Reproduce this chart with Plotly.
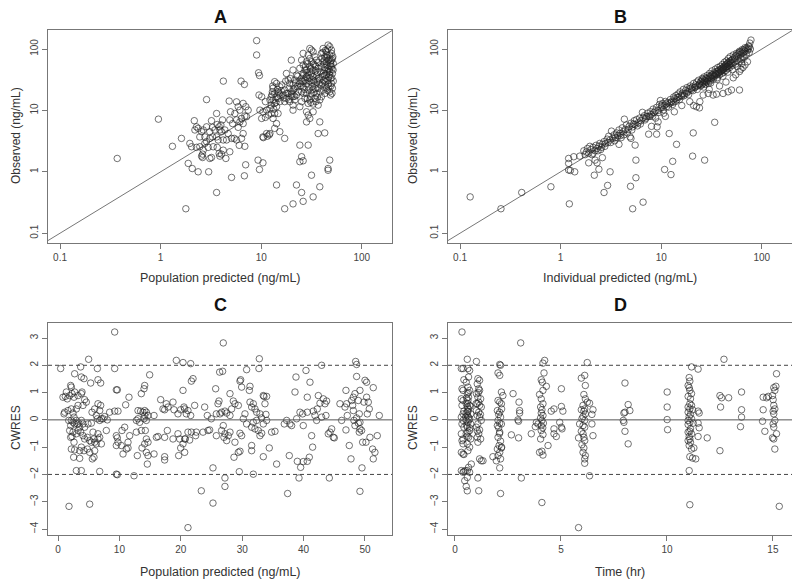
import plotly.graph_objects as go

# observed vs population predicted (ng/mL)
pred_obs = [
    (0.37, 1.65), (0.95, 7.2), (1.31, 2.6), (1.61, 3.5), (1.78, 0.25), (1.88, 1.37), (2.06, 1.13),
    (2.36, 1.0), (3.0, 1.0), (2.86, 15), (3.6, 0.46), (4.2, 30), (5.07, 0.81), (6.8, 0.86), (7.0, 1.3),
    (6.3, 30), (6.8, 26.5), (9.0, 137), (9.0, 80), (9.4, 41), (9.6, 37), (9.5, 17.8), (9.3, 1.55),
    (9.6, 1.09), (10.4, 1.4), (11.5, 3.8), (10.5, 3.6), (12, 4.0),
    (2.16, 6.8), (2.27, 5.4), (2.19, 4.8), (2.55, 4.5), (2.65, 4.8), (2.45, 3.7), (2.75, 3.7), (3.08, 4.5),
    (3.2, 6.8), (3.28, 5.3), (3.46, 4.8), (3.65, 5.9), (3.82, 5.4), (3.97, 5.8), (3.88, 4.8), (4.03, 4.5),
    (4.19, 3.3), (3.6, 3.7), (3.73, 3.3), (4.52, 3.3), (5.07, 3.5), (4.87, 7.0), (4.8, 14.2), (5.68, 13.8),
    (5.9, 11.5), (6.61, 13.0), (7.03, 11.5), (6.13, 10.1), (6.37, 7.4), (6.13, 6.5), (6.61, 6.1), (6.87, 8.1),
    (7.14, 7.9), (7.41, 10.1), (5.68, 7.0), (5.9, 5.3), (5.39, 3.5), (5.68, 3.3), (6.37, 3.5), (6.61, 4.2),
    (6.04, 2.7), (6.87, 2.6), (4.87, 2.12), (4.19, 2.25), (4.03, 1.94), (3.82, 1.99), (3.88, 1.8), (3.65, 2.5),
    (3.2, 1.71), (2.61, 1.94), (2.55, 1.8), (2.61, 1.71), (2.65, 2.25), (2.45, 2.56), (2.03, 2.56), (2.27, 2.5),
    (1.95, 2.9), (2.97, 2.5), (3.33, 2.56), (2.36, 5.1), (2.86, 3.1), (3.08, 3.5), (3.6, 8.9), (2.86, 5.4),
    (4.35, 4.8), (4.69, 4.2), (5.19, 6.1), (5.47, 8.9), (4.95, 9.5), (4.12, 7.0), (3.28, 3.7), (2.75, 2.9),
    (3.08, 1.65), (4.45, 1.65),
    (20.7, 10.1), (24.2, 11.5), (28.2, 9.5), (32.8, 9.5), (29.3, 8.4), (30.4, 7.4), (28.2, 6.5), (38.2, 6.5),
    (36.8, 4.2), (42.8, 4.3), (24.2, 2.72), (29.3, 2.72), (25.2, 1.76), (26.1, 1.51), (24.2, 1.46), (48, 1.55),
    (46.2, 1.13), (46.2, 1.06), (31.6, 0.88), (14.2, 0.61), (22.4, 0.61), (25.2, 0.46), (38.2, 0.57),
    (32.8, 0.39), (26.1, 0.33), (20.7, 0.30), (17.1, 0.25),
    (13.6, 29.4), (14.2, 27.5), (13.1, 23.0), (13.6, 18.9), (12.6, 16.7), (14.2, 16.7), (14.7, 15.7),
    (13.1, 14.8), (15.3, 13.9), (13.6, 13.0), (14.7, 20.1), (12.9, 20.1), (15.3, 24.3), (14.2, 11.5),
    (12.6, 12.2), (15.3, 17.8), (12.2, 14.8),
    (17.8, 40), (20.7, 45.5), (19.9, 66), (18.5, 31.3), (19.2, 27.5), (20.7, 25.9), (17.1, 21.5), (18.5, 18.9),
    (19.9, 16.7), (21.6, 14.8), (17.8, 15.7), (19.2, 13.9), (20.7, 12.2), (22.4, 17.8), (17.1, 13.9),
    (21.6, 31.3), (22.4, 37.6), (18.9, 23), (16.5, 17.8), (19.9, 20.1), (21.6, 23), (20.7, 16.7),
    (26.1, 85), (30.4, 102), (31.6, 96), (32.8, 90), (29.3, 80), (34.1, 75), (25.2, 66), (28.2, 62), (31.6, 62),
    (35.4, 66), (26.1, 55), (30.4, 52), (34.1, 55), (24.2, 48.5), (28.2, 45.5), (32.8, 45.5), (36.8, 48.5),
    (26.1, 40), (29.3, 37.6), (31.6, 40), (35.4, 37.6), (25.2, 33.3), (27.2, 31.3), (30.4, 33.3), (32.8, 31.3),
    (36.8, 33.3), (24.2, 27.5), (28.2, 27.5), (31.6, 28.3), (34.1, 25.9), (26.1, 24.3), (29.3, 24.3),
    (32.8, 22), (36.8, 23), (25.2, 20.1), (28.2, 18.9), (31.6, 18.9), (35.4, 18.9), (27.2, 15.7), (30.4, 14.8),
    (34.1, 15.7), (38.2, 14.8), (25.2, 13.9), (29.3, 13.0), (32.8, 12.7), (36.8, 12.2), (27.2, 45.5),
    (30.4, 70), (28.2, 35.4), (32.8, 35.4), (26.1, 29.4),
    (46.2, 116), (48, 109), (41.2, 102), (49.9, 96), (44.5, 90), (39.7, 85), (48, 80), (42.8, 75), (51, 70),
    (46.2, 66), (41.2, 62), (48.9, 58), (44.5, 55), (39.7, 52), (49.9, 52), (46.2, 48.5), (42.8, 45.5),
    (48, 42.5), (51, 40), (44.5, 37.6), (40.5, 35.4), (48.9, 33.3), (46.2, 31.3), (42.8, 29.4), (49.9, 27.5),
    (39.7, 25.9), (47, 24.3), (44.5, 23), (51, 23), (41.2, 21.5), (48, 20.1), (42.8, 18.9), (48.9, 17.8),
    (39.7, 16.7), (51.8, 45.5), (44.5, 62), (49.9, 66), (47, 35.4), (42.8, 37.6), (38.2, 31.3), (38.7, 42.5),
    (10.1, 16.7), (11, 13.9), (9.7, 10.1), (10.4, 9.5), (11.3, 10.1), (12.2, 10.8), (10.1, 7.4), (11, 7.7),
    (11.8, 8.4), (12.6, 8.9), (13.6, 8.9), (13.1, 7.4), (14.7, 8.9), (14.2, 6.1), (13.6, 5.1), (11.3, 4.2),
    (12.2, 4.2), (10.4, 3.7), (17.1, 3.5), (15.3, 4.5),
    (27.5, 52), (29, 58), (31, 48), (33, 57), (35, 52), (37, 60), (26.5, 38), (28.5, 41), (30.5, 43),
    (34.5, 44), (36, 42), (25.5, 30), (27.8, 34), (30, 30), (33.5, 30), (35.8, 29), (37.5, 27), (24.8, 25),
    (27, 22), (29.8, 21.5), (32, 24.5), (34.8, 22.5), (26.3, 19), (30.8, 17), (33.2, 19.5), (36.2, 16.5),
    (28.8, 15.5), (31.2, 13.5), (35, 14), (38.5, 20),
    (41, 88), (43.5, 95), (46, 100), (50, 85), (52, 58), (40, 70), (42, 57), (45, 72), (47.5, 69), (50.5, 47),
    (43, 50), (45.5, 43), (47.8, 38), (50.2, 34), (41.5, 40), (44, 33), (46.5, 27), (49.3, 25), (52, 30),
    (40.5, 28), (43.2, 25), (45.8, 21), (50.5, 19), (41.8, 31), (47.2, 46), (49, 63), (51.5, 75), (44.8, 80),
    (42.5, 66), (48.5, 53),
    (16, 26), (17.5, 30), (18, 19), (19.5, 33), (21, 22), (22, 28), (23, 36), (23.5, 20), (16.8, 16),
    (18.8, 15), (20, 18.5), (21.5, 17), (22.8, 24.5), (23.8, 30), (15.8, 21),
    (13, 25), (14.5, 22), (12.8, 18), (14, 13.5), (15, 19), (13.3, 10.5),
]

# observed vs individual predicted (ng/mL)
ipred_obs = [
    (1.55, 1.8), (1.7, 2.2), (1.75, 1.9), (1.8, 2.1), (1.85, 2.4), (1.9, 2.0), (1.95, 2.6), (2.0, 2.3),
    (2.05, 1.9), (2.1, 2.5), (2.2, 2.2), (2.25, 2.7), (2.3, 2.4), (2.4, 2.6), (2.45, 2.9), (2.5, 2.3),
    (2.6, 2.8), (2.7, 3.1), (2.8, 2.9), (2.9, 3.4), (2.95, 3.0), (3.0, 3.8), (3.1, 3.3), (3.2, 4.6), (3.3, 3.5),
    (3.4, 4.0), (3.5, 3.6), (3.6, 4.3), (3.7, 3.9), (3.8, 4.8), (3.9, 4.2), (4.0, 3.6), (4.1, 5.2), (4.2, 4.5),
    (4.3, 7.2), (4.4, 4.9), (4.5, 5.8), (4.6, 4.3), (4.8, 5.5), (4.9, 3.7), (5.0, 6.2), (5.2, 5.4), (5.4, 6.8),
    (5.5, 5.9), (5.7, 7.1), (5.9, 6.3), (6.1, 7.5), (6.3, 6.8), (6.5, 9.3), (6.6, 7.6),
    (6.8, 8.2), (7.0, 7.4), (7.3, 9.0), (7.5, 8.0), (7.8, 9.5), (8.0, 8.6), (8.3, 10.5), (8.5, 9.2), (8.8, 7.5),
    (9.0, 11.2), (9.3, 10.0), (9.6, 12.5), (9.8, 14.5), (10.0, 11.0), (10.3, 13.0), (10.6, 9.0), (10.8, 12.0),
    (11.0, 14.0), (11.3, 11.5), (11.6, 13.5), (12.0, 12.8), (12.3, 15.0), (12.7, 14.0), (13.0, 12.5), (13.3, 16.5),
    (13.6, 15.5), (14.0, 17.5), (14.3, 14.8), (14.7, 18.5), (15.0, 16.5), (15.4, 20.0), (15.8, 17.5),
    (16.2, 19.0), (16.6, 22.0), (17.0, 18.5), (17.5, 21.0), (18.0, 23.5), (18.4, 20.0), (18.9, 22.5),
    (19.4, 25.0), (19.9, 21.5), (20.4, 24.0), (21.0, 27.5), (21.5, 23.5), (22.0, 26.0), (22.5, 29.0),
    (23.0, 25.0), (23.5, 31.0), (24.0, 27.0), (24.5, 25.0), (25.0, 30.0), (25.5, 33.0), (25.8, 27.0),
    (26.2, 29.0), (26.6, 35.0), (27.0, 31.0), (27.4, 26.5), (27.8, 33.5), (28.2, 29.0), (28.6, 37.0),
    (29.0, 31.5), (29.4, 27.5), (29.8, 34.0), (30.2, 40.0), (30.6, 30.0), (31.0, 36.5), (31.5, 33.0),
    (32.0, 44.0), (32.5, 38.0), (33.0, 32.0), (33.5, 41.0), (34.0, 36.0), (34.5, 47.0), (35.0, 39.0),
    (35.5, 43.0), (36.0, 34.0), (36.5, 50.0), (37.0, 41.0), (37.5, 45.5), (38.0, 38.0), (38.5, 52.0),
    (39.0, 43.0), (39.5, 48.0),
    (40.0, 40.0), (40.5, 56.0), (41.0, 46.0), (41.5, 51.0), (42.0, 42.0), (42.5, 61.0), (43.0, 49.0),
    (43.5, 55.0), (44.0, 45.0), (44.5, 64.0), (45.0, 52.0), (45.5, 58.0), (46.0, 48.0), (46.5, 70.0),
    (47.0, 55.0), (47.5, 62.0), (48.0, 50.0), (48.5, 75.0), (49.0, 58.0), (50.0, 66.0), (51.0, 54.0),
    (52.0, 80.0), (53.0, 61.0), (54.0, 70.0), (55.0, 57.0), (56.0, 85.0), (57.0, 66.0), (58.0, 76.0),
    (59.0, 62.0), (60.0, 92.0), (61.0, 71.0), (62.0, 82.0), (63.0, 68.0), (64.0, 98.0), (65.0, 76.0),
    (66.0, 88.0), (67.0, 73.0), (68.0, 105.0), (70.0, 82.0), (72.0, 95.0), (74.0, 112.0), (75.0, 88.0),
    (76.0, 125.0), (77.0, 100.0), (78.0, 140.0), (75.0, 108.0),
    (2.1, 2.0), (2.35, 2.2), (2.55, 2.5), (2.75, 2.6), (3.15, 3.0), (3.45, 3.2), (3.65, 3.6), (3.95, 3.9),
    (4.25, 4.0), (4.7, 4.9), (5.1, 4.8), (5.3, 6.0), (5.8, 5.6), (6.2, 6.0), (6.9, 7.0), (7.2, 7.9),
    (7.7, 8.0), (8.2, 8.0), (8.7, 9.8), (9.5, 9.3), (10.1, 12.0), (10.5, 10.2), (11.2, 12.8), (11.8, 11.3),
    (12.5, 13.4), (13.2, 13.6), (13.9, 14.0), (14.5, 16.3), (15.2, 15.0), (16.0, 17.0), (16.8, 17.3),
    (17.8, 19.0), (18.7, 18.0), (19.7, 23.0), (20.7, 21.0), (21.8, 24.0), (22.8, 22.0), (23.8, 26.0),
    (24.7, 29.0), (25.3, 26.0), (26.0, 32.0), (26.8, 28.0), (27.6, 30.0), (28.4, 33.0), (29.2, 30.0),
    (30.0, 35.5), (30.8, 33.5), (31.7, 38.0), (32.7, 35.0), (33.7, 37.0), (34.7, 40.0), (35.7, 38.0),
    (36.7, 44.0), (37.7, 41.0), (38.7, 46.0), (39.7, 44.0), (40.7, 49.0), (41.7, 47.0), (42.7, 53.0),
    (43.7, 51.0), (44.7, 57.0), (45.7, 53.0), (46.7, 60.0), (47.7, 56.0), (48.7, 64.0), (49.7, 60.0),
    (51.5, 68.0), (53.5, 74.0), (55.5, 78.0), (57.5, 82.0), (59.5, 88.0), (61.5, 90.0), (63.5, 86.0),
    (65.5, 96.0), (67.5, 92.0), (69.0, 100.0), (71.0, 105.0), (73.0, 100.0), (26.5, 24), (31, 28), (36, 32),
    (41, 36), (46, 42), (51, 46), (57, 52), (63, 58),
    (22.4, 11.5), (24.2, 13.9), (26.1, 17.8), (29.3, 18.9), (32.8, 17.8), (35.4, 18.4), (41.2, 18.9),
    (46.2, 20.1), (49.9, 21.5), (60.0, 21.5), (65.0, 50.0), (60.0, 43.0), (19.2, 13.9), (30, 22), (38, 25),
    (44, 29), (52, 34), (55, 38), (62, 47), (68, 55), (72, 62), (8.0, 5.5), (7.5, 4.1), (5.0, 3.5), (3.8, 2.8),
    (2.6, 1.7), (2.2, 1.55), (1.9, 1.4), (13.5, 9.5), (11, 8.0), (16, 12),
    (0.126, 0.39), (0.255, 0.25), (0.41, 0.46), (0.80, 0.57), (1.22, 0.30), (1.2, 1.37), (1.2, 1.07),
    (1.25, 1.05), (1.35, 1.76), (1.38, 1.0), (1.2, 1.65), (2.16, 0.88), (3.1, 1.0), (2.93, 0.6), (2.7, 0.46),
    (2.3, 1.4), (2.4, 1.1), (5.6, 1.55), (5.5, 2.72), (5.6, 0.8), (4.95, 0.58), (5.2, 0.25), (6.6, 0.32),
    (10.8, 1.09), (12.5, 0.9), (13, 1.48), (12, 4.2), (14.2, 2.8), (9.0, 4.1), (9.1, 5.4), (9.3, 6.5),
    (20.8, 4.3), (20.5, 1.8), (27, 1.55), (34, 6.4), (21, 12), (24, 11),
]

# CWRES vs population predicted (ng/mL)
pred_cwres = [
    (0.43, 1.88), (1.79, -3.17), (5.16, -3.09), (4.99, 2.22), (9.23, 3.22), (2.71, 1.69), (3.69, 1.94),
    (3.8, 1.57), (4.23, 1.51), (5.32, 1.35), (6.41, 1.88), (6.51, 1.47), (6.95, 1.35), (9.23, 1.88),
    (9.5, 1.1), (9.66, 1.1), (14.93, 1.65), (14.12, 1.26), (14.01, 1.14), (1.36, 1.02), (1.19, 0.86),
    (1.52, 0.77), (0.81, 0.83), (1.9, 0.89), (2.17, 1.2), (2.06, 1.26), (2.28, 0.96), (2.71, 1.02),
    (2.61, 0.83), (3.26, 0.89), (3.8, 0.96), (3.91, 1.02), (4.34, 0.74), (4.61, 0.65), (4.07, 0.53),
    (3.26, 0.53), (2.99, 0.4), (2.17, 0.4), (1.63, 0.34), (1.09, 0.28), (0.98, 0.22), (2.44, 0.25),
    (2.61, 0.1), (2.99, -0.02), (1.74, -0.02), (2.17, -0.02), (2.44, -0.09), (2.71, -0.15), (2.06, -0.21),
    (3.15, -0.15), (3.37, -0.12), (3.8, -0.02), (4.07, -0.15), (3.53, -0.27), (4.34, -0.27), (4.89, -0.15),
    (5.43, -0.12), (5.54, 0.28), (5.97, 0.4), (6.24, 0.16), (6.51, 0.59), (6.79, 0.34), (6.95, 0.53),
    (6.41, 0.04), (6.79, -0.02), (7.06, 0.04), (7.33, 0.04), (7.6, 0.12), (8.03, 0.0), (8.41, 0.28),
    (9.23, 0.32), (9.77, 0.32),
    (1.9, -0.39), (2.44, -0.45), (2.28, -0.61), (2.99, -0.51), (3.26, -0.39), (3.69, -0.45), (4.07, -0.58),
    (4.34, -0.7), (4.78, -0.64), (5.16, -0.76), (5.43, -0.82), (5.86, -0.7), (5.97, -0.82), (6.24, -0.88),
    (6.51, -0.7), (6.79, -0.64), (7.06, -0.88), (6.51, -0.51), (5.7, -0.45), (2.06, -0.64), (2.61, -0.82),
    (2.17, -1.07), (2.71, -1.1), (3.53, -1.13), (3.8, -1.0), (4.23, -1.13), (4.78, -1.07), (5.16, -1.19),
    (5.97, -1.13), (5.86, -1.37), (5.59, -1.43), (2.55, -1.37), (3.53, -1.41), (2.99, -1.86), (3.8, -1.86),
    (6.79, -1.89), (7.87, -0.39), (9.5, -0.58), (9.66, -0.66), (9.77, -0.82), (9.5, -0.94), (10.31, -0.94),
    (11.4, -0.82), (11.67, -0.58), (10.86, -0.27), (10.42, -0.39), (11.13, -1.07), (10.59, -1.25),
    (11.4, -1.03), (9.5, -1.99), (9.66, -2.01), (12.38, -2.05),
    (11.02, 0.55), (11.56, 0.83), (13.57, 0.96), (13.03, 0.34), (13.46, 0.32), (13.84, 0.28), (14.12, 0.34),
    (14.39, 0.28), (14.12, 0.16), (14.66, 0.16), (14.01, 0.04), (14.39, -0.02), (13.03, 0.04), (12.76, -0.02),
    (13.3, -0.09), (15.64, 0.16), (16.72, 0.74), (17.1, 0.4), (17.37, 0.37), (17.64, 0.59), (17.92, 0.47),
    (18.73, 0.65), (18.89, 0.37), (19.54, 0.22), (19.98, 0.37), (20.52, 0.47), (20.63, 0.4), (20.9, 0.22),
    (21.17, 0.34), (21.61, 0.16), (22.26, 0.53), (20.36, 1.08), (21.72, 1.42), (21.99, 1.51), (23.89, 0.47),
    (24.32, 0.16), (24.97, 0.04), (25.79, 0.22), (26.06, 0.59), (25.68, 1.14), (26.22, 0.69), (26.33, 1.75),
    (12.76, -0.45), (13.57, -0.39), (14.22, -0.39), (14.39, -0.7), (14.66, -0.82), (14.12, -0.88),
    (14.39, -1.19), (14.66, -1.31), (14.55, -1.62), (13.68, -1.03), (12.92, -1.31), (15.64, -1.25),
    (16.02, -0.64), (16.29, -0.61), (17.37, -0.64), (17.81, -0.39), (17.37, -1.35), (17.37, -1.47),
    (18.73, -0.7), (19.54, -0.51), (19.82, -0.7), (20.63, -0.7), (20.36, -0.88), (20.74, -0.7), (21.44, -0.74),
    (19.98, -1.03), (19.65, -1.31), (20.63, -1.19), (21.17, -0.45), (21.72, -0.45), (22.53, -0.45),
    (22.42, -0.58), (23.62, -0.45), (24.43, -0.39), (24.7, -0.37), (25.79, -0.58), (25.24, -1.76),
    (23.34, -2.6), (25.24, -3.05), (21.17, -3.95), (19.27, 2.18), (20.36, 2.1), (21.61, 2.06),
    (26.92, 2.82), (26.81, 1.78), (30.72, 1.84), (32.73, 1.88), (32.79, 2.24), (29.75, 1.47), (29.64, 1.42),
    (29.91, 1.2), (31.27, 1.23), (31.16, 1.08), (28.01, 0.96), (28.55, 0.69), (28.82, 0.59), (29.37, 0.53),
    (28.28, 0.4), (27.19, 0.32), (26.65, 0.28), (27.47, 0.25), (28.01, 0.16), (26.38, 0.22), (26.92, -0.21),
    (26.65, -0.39), (27.19, -0.51), (27.03, -0.64), (27.74, -0.58), (27.47, -0.76), (28.01, -0.45),
    (28.82, -0.82), (29.64, -0.49), (29.91, -0.58), (29.37, -1.19), (28.66, -1.37), (29.64, -1.15),
    (30.18, 0.04), (30.45, 0.22), (31.27, 0.65), (31.81, 0.59), (31.54, 0.47), (32.08, 0.4), (32.35, 0.28),
    (32.89, 0.22), (33.44, 0.89), (33.55, 0.86), (33.98, 0.86), (33.71, 0.59), (33.87, 0.2), (33.17, 0.07),
    (32.35, -0.02), (31.81, -0.09), (30.72, -0.15), (31.54, -0.27), (32.08, -0.33), (32.62, -0.39),
    (33.17, -0.49), (32.89, -0.58), (34.79, -0.45), (35.34, -0.42), (33.44, -0.15), (33.98, -0.02),
    (31.54, -0.94), (31.54, -1.13), (33.44, -1.35), (34.41, -1.03), (35.61, -1.62), (31.81, -1.99),
    (29.53, -1.9), (27.19, -2.13), (27.19, -2.44),
    (36.86, -0.15), (37.24, -0.02), (37.78, -0.15), (38.05, -0.21), (37.67, -1.31), (38.87, 0.04),
    (38.6, 1.02), (38.76, 1.57), (39.41, 0.28), (39.84, 0.22), (39.95, -0.21), (40.39, 1.81), (40.6, 0.83),
    (41.04, 1.38), (40.6, 0.28), (41.31, -0.58), (41.47, -1.0), (41.58, 0.32), (41.85, 0.16), (42.12, -0.02),
    (42.23, 0.4), (42.4, 0.89), (42.67, 0.61), (42.94, 2.0), (42.94, 0.1), (43.21, 0.77), (43.48, 0.59),
    (43.75, 0.69), (43.64, 0.16), (44.02, -0.51), (44.3, -0.45), (44.57, -0.33), (44.84, -0.64), (45.0, -0.66),
    (45.92, 0.59), (46.2, -0.02), (46.9, 1.08), (46.9, -0.37), (47.12, 0.16), (47.44, -0.94), (47.72, -1.43),
    (47.99, 0.53), (48.1, 0.83), (48.37, 0.96), (48.2, -0.02), (48.37, -0.21), (48.48, 2.14), (48.64, 2.03),
    (48.64, 1.59), (48.91, 0.71), (49.18, 1.08), (49.07, 0.22), (49.18, -0.09), (49.18, -0.33), (49.45, -0.39),
    (49.07, -0.45), (49.62, -0.82), (49.83, 0.65), (50.0, 1.45), (50.27, 1.38), (50.27, 0.83), (50.54, 0.65),
    (50.38, 0.22), (50.16, -0.82), (50.7, 0.4), (50.81, -0.64), (51.24, -1.07), (51.35, 1.18), (51.35, -1.43),
    (51.62, -1.19), (52.0, -0.58), (52.33, 0.16), (49.18, -2.62), (49.51, -1.76), (47.01, 0.59), (46.74, 0.47),
    (47.82, 0.71), (48.1, 0.34), (48.64, 0.07), (48.91, -0.12), (38.98, -1.52), (39.52, -1.74), (39.95, -1.53),
    (40.6, -1.52), (40.93, -1.37), (39.25, -2.13), (44.19, -2.13), (37.4, -2.7),
]

# CWRES vs time (hr)
time_cwres = [
    (0.33, 3.22), (0.3, 1.88), (0.38, 1.88), (0.42, 1.47), (0.33, 1.14), (0.38, 1.08), (0.3, 0.77),
    (0.38, 0.71), (0.33, 0.53), (0.42, 0.32), (0.38, 0.22), (0.3, 0.1), (0.38, -0.02), (0.33, -0.15),
    (0.42, -0.27), (0.3, -0.51), (0.38, -0.7), (0.33, -0.76), (0.38, -0.88), (0.3, -1.19), (0.38, -1.25),
    (0.42, -1.27), (0.3, -1.86), (0.38, -1.92), (0.42, -1.89), (0.49, -1.86),
    (0.58, 2.22), (0.61, 1.88), (0.69, 1.81), (0.64, 1.57), (0.53, 1.38), (0.61, 1.2), (0.69, 1.08),
    (0.58, 0.96), (0.64, 0.83), (0.61, 0.71), (0.53, 0.59), (0.69, 0.53), (0.58, 0.47), (0.64, 0.4),
    (0.61, 0.32), (0.53, 0.25), (0.74, 0.22), (0.58, 0.16), (0.64, 0.1), (0.69, 0.04), (0.53, -0.02),
    (0.61, -0.09), (0.74, -0.15), (0.58, -0.27), (0.69, -0.39), (0.61, -0.45), (0.53, -0.51), (0.64, -0.64),
    (0.74, -0.7), (0.58, -0.88), (0.69, -1.0), (0.61, -1.13), (0.77, -1.62), (0.64, -1.74), (0.58, -1.86),
    (0.69, -1.92), (0.58, -2.11), (0.53, -2.44), (0.58, -2.6), (0.46, -2.23), (0.55, 0.8), (0.6, 0.3),
    (0.66, 0.0), (0.57, -0.6), (0.72, 0.5), (0.5, 0.1), (0.63, 1.0), (0.7, -0.3), (0.6, 0.6), (0.55, -0.2),
    (1.01, 2.14), (1.08, 1.51), (1.16, 1.45), (1.05, 1.32), (1.12, 1.14), (1.16, 1.08), (1.01, 0.96),
    (1.08, 0.83), (1.21, 0.77), (1.12, 0.65), (1.05, 0.59), (1.16, 0.53), (1.24, 0.47), (1.01, 0.34),
    (1.12, 0.28), (1.05, 0.16), (1.16, 0.1), (1.24, -0.02), (1.08, -0.15), (1.01, -0.27), (1.16, -0.37),
    (1.12, -0.51), (1.05, -0.64), (1.21, -0.7), (1.08, -0.82), (1.24, -1.5), (1.16, -1.43), (1.32, -1.5),
    (1.08, -2.13), (1.12, -2.6), (1.1, 1.0), (1.05, -0.4), (1.2, 0.2), (1.0, 0.6),
    (2.03, 1.72), (2.11, 1.63), (2.11, 2.03), (2.15, 2.0), (2.19, 1.02), (2.26, 0.89), (2.03, 0.71),
    (2.11, 0.65), (2.19, 0.59), (2.0, 0.34), (2.11, 0.28), (2.06, 0.2), (2.15, 0.1), (2.03, -0.02),
    (2.11, -0.12), (2.0, -0.21), (2.19, -0.15), (2.06, -0.29), (2.11, -0.45), (2.03, -0.64), (2.15, -0.78),
    (2.08, -0.94), (2.19, -1.03), (2.0, -1.07), (2.11, -1.19), (2.03, -1.31), (2.15, -1.43), (1.95, -1.5),
    (2.11, -1.76), (1.79, -1.35), (2.15, -2.7), (2.2, -1.0), (2.1, -0.5), (2.2, 0.4),
    (2.74, 0.96), (3.02, 0.65), (3.05, 0.34), (3.05, 0.25), (2.97, 0.0), (3.0, -0.05), (2.66, -0.55),
    (3.0, -0.66), (3.13, -2.13), (3.1, 2.82),
    (4.23, 2.18), (4.15, 2.08), (4.2, 1.72), (4.07, 1.47), (4.12, 1.38), (4.31, 1.23), (4.15, 1.08),
    (3.99, 0.93), (4.07, 0.77), (4.15, 0.59), (4.04, 0.47), (4.1, 0.37), (4.07, 0.25), (4.15, 0.16),
    (4.04, 0.07), (4.1, -0.02), (4.17, -0.12), (4.07, -0.21), (4.14, -0.29), (4.07, -0.39), (4.15, -0.54),
    (4.04, -0.7), (4.1, -1.15), (4.15, -1.29), (3.99, -1.19), (3.79, -0.25), (3.6, -0.51), (4.39, -0.94),
    (4.1, -3.03), (3.92, -0.15), (3.84, -0.09),
    (4.54, 0.32), (4.67, 0.4), (4.67, -0.33), (4.78, -0.61), (4.67, -0.51), (5.02, 1.14), (5.02, 0.49),
    (5.09, 0.32), (4.94, -0.09), (5.02, -0.27), (5.05, -0.33),
    (5.83, -3.95), (5.96, 1.53), (6.12, 1.63), (6.24, 2.1), (6.15, 1.26), (6.08, 0.93), (6.15, 0.77),
    (6.24, 0.65), (6.35, 0.61), (6.04, 0.53), (6.12, 0.4), (5.96, 0.37), (6.08, 0.32), (6.15, 0.22),
    (6.04, 0.12), (5.99, 0.04), (6.12, -0.02), (5.88, -0.15), (6.04, -0.21), (6.12, -0.27), (6.51, 0.37),
    (6.46, 0.2), (6.46, -0.15), (6.51, -0.58), (5.83, -0.66), (5.96, -0.42), (6.04, -0.51), (6.08, -0.64),
    (6.12, -0.76), (5.99, -0.91), (6.08, -1.03), (6.04, -1.19), (6.15, -1.31), (6.12, -1.43), (6.12, -1.59),
    (6.35, -2.05),
    (8.02, 1.35), (8.17, 0.56), (8.25, 0.34), (7.97, 0.25), (8.02, 0.28), (7.94, -0.02), (7.97, -0.09),
    (8.02, -0.42), (8.17, -0.88),
    (10.01, 1.02), (10.01, 0.47), (10.01, 0.01), (10.03, -0.36),
    (11.16, 1.94), (11.47, 1.86), (11.05, 1.55), (11.08, 1.42), (11.0, 1.26), (11.05, 1.18), (11.08, 1.08),
    (11.16, 0.96), (11.0, 0.86), (11.11, 0.77), (11.08, 0.59), (11.16, 0.53), (11.0, 0.47), (11.08, 0.4),
    (11.21, 0.37), (11.47, 0.32), (11.52, 0.25), (11.0, 0.28), (11.11, 0.2), (11.05, 0.12), (11.16, 0.04),
    (11.0, -0.02), (11.08, -0.09), (11.24, -0.12), (11.47, -0.12), (11.52, -0.29), (11.0, -0.17),
    (11.11, -0.33), (11.08, -0.42), (11.0, -0.45), (11.16, -0.51), (11.05, -0.61), (11.47, -0.61),
    (11.08, -0.7), (11.0, -0.76), (11.11, -0.82), (11.05, -0.94), (11.27, -1.03), (11.16, -1.07),
    (11.08, -1.35), (11.21, -1.4), (11.36, -1.43), (11.05, -1.86), (11.08, -3.11), (11.9, -0.66),
    (12.69, 2.22), (12.5, 0.89), (12.58, 0.81), (12.53, 0.47), (12.91, 0.81), (12.5, -1.13),
    (13.52, 1.02), (13.52, 0.37), (13.52, 0.1), (13.47, -0.25),
    (14.54, 0.83), (14.7, 0.81), (14.78, 0.86), (14.54, 0.37), (14.51, -0.05), (14.62, -0.42),
    (14.98, 0.89), (15.04, 1.18), (15.14, 1.23), (15.09, 1.08), (15.17, 1.69), (15.01, 0.74), (15.04, 0.53),
    (15.09, 0.4), (15.01, 0.32), (15.04, 0.22), (15.09, -0.02), (15.01, -0.15), (15.04, -0.27),
    (15.17, -0.51), (15.04, -0.7), (14.98, -0.66), (15.09, -1.07), (15.3, -3.17),
]

identity_line = [0.01, 1000]
zero_line = 0
cwres_limits = [-2, 2]

log_ticks = [0.1, 1, 10, 100]
log_labels = ["0.1", "1", "10", "100"]
cwres_ticks = [-4, -3, -2, -1, 0, 1, 2, 3]
pred_ticks = [0, 10, 20, 30, 40, 50]
time_ticks = [0, 5, 10, 15]

font = "Liberation Sans, Arial, sans-serif"
ink = "#333333"
frame = "#777777"

# the page adds an 8px body margin, so the figure is laid out in page pixels minus 8
W, H, OFF = 792, 577, 8


def px_x(p):
    return (p - OFF) / W


def px_y(p):
    return 1 - (p - OFF) / H


fig = go.Figure()

marker = dict(symbol="circle-open", size=6.5, color="rgba(35,35,35,0.8)", line=dict(width=0.8))


def add_points(pts, xa, ya):
    fig.add_trace(go.Scatter(x=[p[0] for p in pts], y=[p[1] for p in pts], mode="markers",
                             marker=marker, xaxis=xa, yaxis=ya, showlegend=False, hoverinfo="skip"))


for xa, ya in [("x", "y"), ("x2", "y2")]:
    fig.add_trace(go.Scatter(x=identity_line, y=identity_line, mode="lines",
                             line=dict(color="#777777", width=1), xaxis=xa, yaxis=ya,
                             showlegend=False, hoverinfo="skip"))

add_points(pred_obs, "x", "y")
add_points(ipred_obs, "x2", "y2")
add_points(pred_cwres, "x3", "y3")
add_points(time_cwres, "x4", "y4")

for xa, ya in [("x3", "y3"), ("x4", "y4")]:
    fig.add_shape(type="line", xref=xa + " domain", yref=ya, x0=0, x1=1, y0=zero_line, y1=zero_line,
                  line=dict(color="#555555", width=1))
    for lv in cwres_limits:
        fig.add_shape(type="line", xref=xa + " domain", yref=ya, x0=0, x1=1, y0=lv, y1=lv,
                      line=dict(color="#444444", width=1, dash="4px,3px"))

common = dict(showline=True, linecolor=frame, linewidth=1, mirror=True, ticks="outside",
              ticklen=5, tickcolor=frame, showgrid=False, zeroline=False,
              tickfont=dict(family=font, size=10, color="#444444"))

top = [px_y(243), px_y(30)]
bottom = [px_y(535), px_y(323)]
left = [px_x(48), px_x(392)]
right = [px_x(448), px_x(792)]

fig.update_layout(
    width=W, height=H, margin=dict(l=0, r=0, t=0, b=0),
    paper_bgcolor="white", plot_bgcolor="white",
    xaxis=dict(domain=left, type="log", range=[-1.12, 2.30], tickvals=log_ticks, ticktext=log_labels,
               anchor="y", **common),
    yaxis=dict(domain=top, type="log", range=[-1.16, 2.31], tickvals=log_ticks,
               ticktext=log_labels, tickangle=-90, anchor="x", **common),
    xaxis2=dict(domain=right, type="log", range=[-1.12, 2.30], tickvals=log_ticks, ticktext=log_labels,
                anchor="y2", **common),
    yaxis2=dict(domain=top, type="log", range=[-1.16, 2.31], tickvals=log_ticks,
                ticktext=log_labels, tickangle=-90, anchor="x2", **common),
    xaxis3=dict(domain=left, range=[-1.63, 54.4], tickvals=pred_ticks, anchor="y3", **common),
    yaxis3=dict(domain=bottom, range=[-4.22, 3.55], tickvals=cwres_ticks,
                tickangle=-90, anchor="x3", **common),
    xaxis4=dict(domain=right, range=[-0.33, 15.9], tickvals=time_ticks, anchor="y4", **common),
    yaxis4=dict(domain=bottom, range=[-4.22, 3.55], tickvals=cwres_ticks,
                tickangle=-90, anchor="x4", **common),
)

labels = [
    ("A", 220, 17, 0, 18, True), ("B", 620, 17, 0, 18, True),
    ("C", 220, 305, 0, 18, True), ("D", 620, 305, 0, 18, True),
    ("Population predicted (ng/mL)", 220, 278, 0, 12.5, False),
    ("Individual predicted (ng/mL)", 620, 278, 0, 12.5, False),
    ("Population predicted (ng/mL)", 220, 572, 0, 12.5, False),
    ("Time (hr)", 620, 572, 0, 12.5, False),
    ("Observed (ng/mL)", 16, 136, -90, 12, False),
    ("Observed (ng/mL)", 413, 136, -90, 12, False),
    ("CWRES", 16, 428, -90, 12, False),
    ("CWRES", 413, 428, -90, 12, False),
]
for text, px, py, ang, sz, bold in labels:
    fig.add_annotation(text=f"<b>{text}</b>" if bold else text, x=px_x(px), y=px_y(py),
                       xref="paper", yref="paper", showarrow=False, textangle=ang,
                       xanchor="center", yanchor="middle",
                       font=dict(family=font, size=sz, color="#111111" if bold else ink))

fig.write_html("out.html")
